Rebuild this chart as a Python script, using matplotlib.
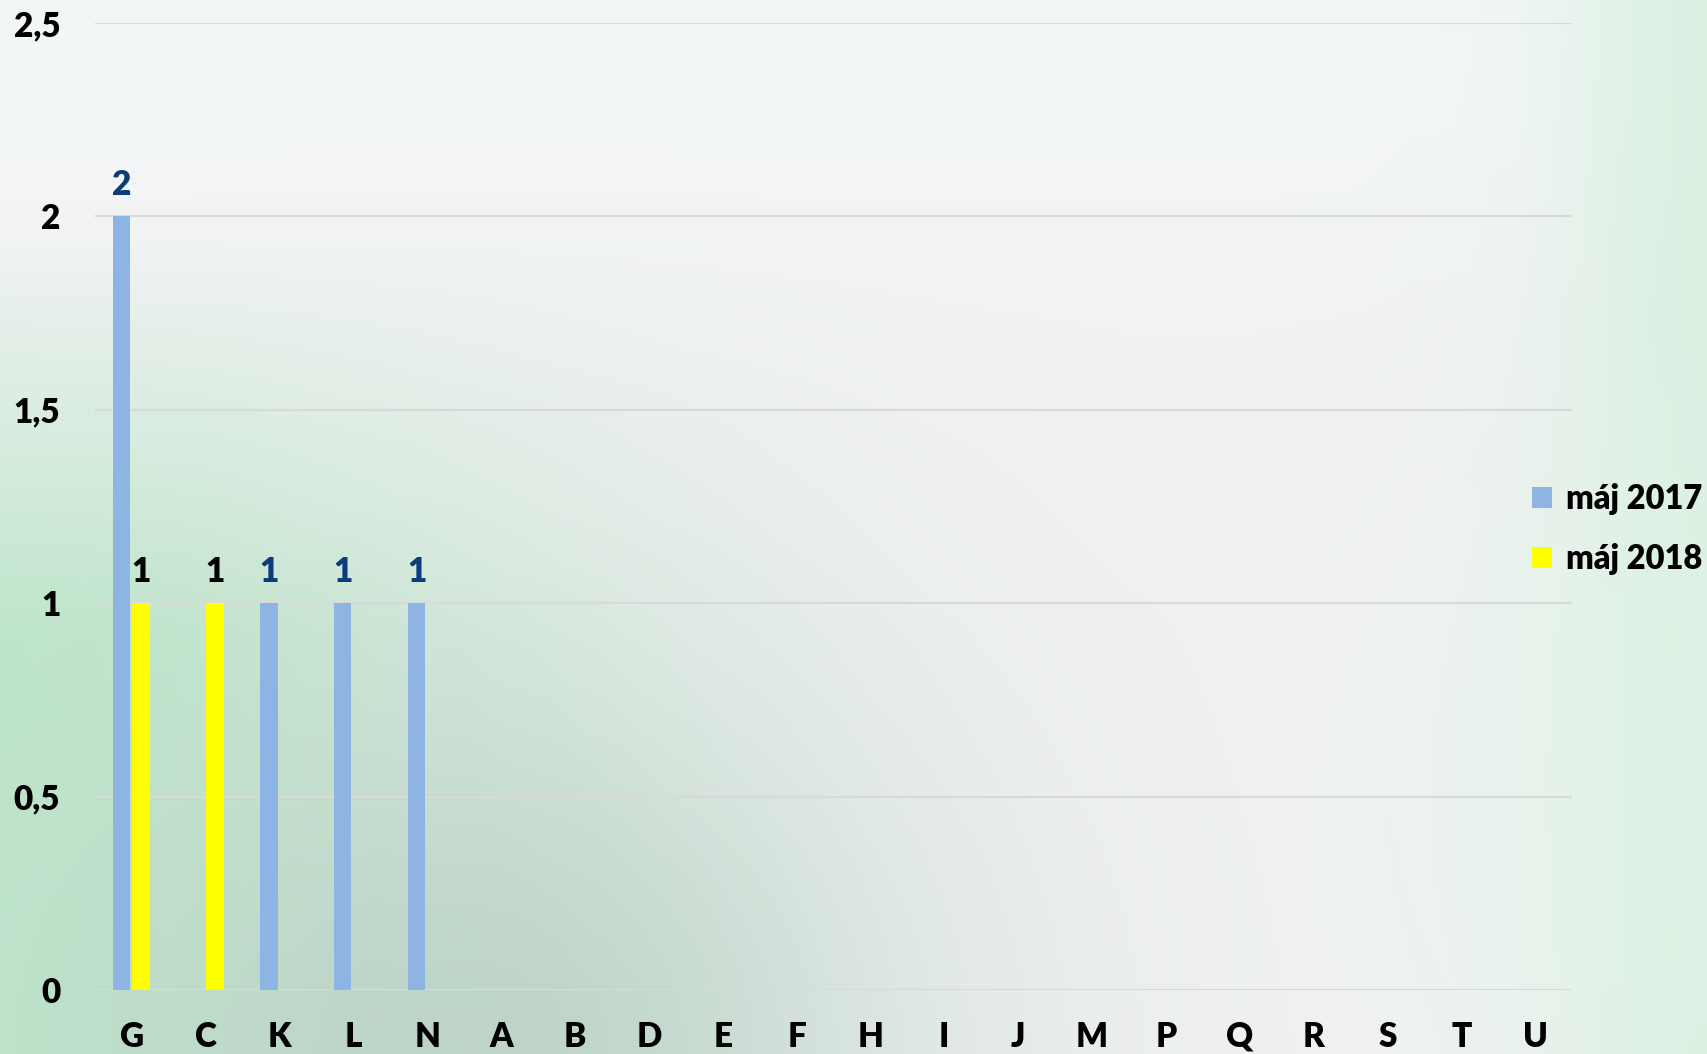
import numpy as np
import matplotlib
matplotlib.use("Agg")
import matplotlib.pyplot as plt
from matplotlib.patches import Patch

categories = ["G", "C", "K", "L", "N", "A", "B", "D", "E", "F",
              "H", "I", "J", "M", "P", "Q", "R", "S", "T", "U"]
series_names = ["máj 2017", "máj 2018"]
values_2017 = [2, 0, 1, 1, 1, 0, 0, 0, 0, 0, 0, 0, 0, 0, 0, 0, 0, 0, 0, 0]
values_2018 = [1, 1, 0, 0, 0, 0, 0, 0, 0, 0, 0, 0, 0, 0, 0, 0, 0, 0, 0, 0]
y_ticks = [0, 0.5, 1, 1.5, 2, 2.5]

col_2017 = "#8EB4E3"
col_2018 = "#FFFF00"
lab_2017 = "#0A3D7A"
lab_2018 = "#000000"

FONT = ["Lato", "DejaVu Sans"]
WEIGHT = 800
plt.rcParams['font.family'] = FONT

W, H = 1708, 1054
fig = plt.figure(figsize=(W / 100, H / 100), dpi=100)

# background gradient
yy, xx = np.mgrid[0:1:H * 1j, 0:1:W * 1j]
img = np.ones((H, W, 3)) * np.array([0.945, 0.947, 0.950])

def blend(img, w, c):
    w = np.clip(w, 0, 1)[..., None]
    return img * (1 - w) + np.array(c) * w

img = blend(img, 0.9 * np.exp(-((yy) / 0.25) ** 2), [0.955, 0.968, 0.972])
img = blend(img, 0.97 * np.exp(-(xx / 0.33) ** 2) * np.clip((yy - 0.22) / 0.38, 0, 1),
            [0.745, 0.905, 0.795])
img = blend(img, 0.8 * np.exp(-((xx - 0.28) / 0.25) ** 2 - ((yy - 1.0) / 0.35) ** 2),
            [0.72, 0.81, 0.765])
img = blend(img, 0.8 * np.exp(-((1 - xx) / 0.09) ** 2), [0.84, 0.94, 0.87])
img = blend(img, 0.5 * np.exp(-((1 - xx) / 0.2) ** 2 - ((yy - 0.75) / 0.35) ** 2),
            [0.88, 0.96, 0.91])

bg = fig.add_axes([0, 0, 1, 1])
bg.imshow(img, aspect='auto', extent=[0, 1, 0, 1], origin='upper')
bg.set_axis_off()

ax = fig.add_axes([95 / W, (H - 990) / H, 1477 / W, (990 - 23) / H])
ax.patch.set_alpha(0)

x = np.arange(len(categories))
bw = 0.235
off = 0.135
b1 = ax.bar(x - off - 0.01, values_2017, bw, color=col_2017, zorder=3)
b2 = ax.bar(x + off - 0.01, values_2018, bw, color=col_2018, zorder=3)

for rect, v in zip(b1, values_2017):
    if v:
        ax.annotate(f"{v}", (rect.get_x() + rect.get_width() / 2, v),
                    xytext=(0, 11), textcoords="offset points", ha="center",
                    va="bottom", fontsize=24, fontweight=WEIGHT, color=lab_2017)
for rect, v in zip(b2, values_2018):
    if v:
        ax.annotate(f"{v}", (rect.get_x() + rect.get_width() / 2, v),
                    xytext=(0, 11), textcoords="offset points", ha="center",
                    va="bottom", fontsize=24, fontweight=WEIGHT, color=lab_2018)

ax.set_xlim(-0.5, len(categories) - 0.5)
ax.set_ylim(0, 2.5)
ax.set_yticks(y_ticks)
ax.set_yticklabels([f"{t:g}".replace(".", ",") for t in y_ticks])
ax.set_xticks(x)
ax.set_xticklabels(categories)
for lbl in ax.get_xticklabels() + ax.get_yticklabels():
    lbl.set_fontweight(WEIGHT)
    lbl.set_fontsize(24)
ax.tick_params(axis="both", length=0)
ax.tick_params(axis="y", pad=25)
ax.tick_params(axis="x", pad=22)
ax.grid(axis="y", color="#d9d9d9", linewidth=1.6, zorder=0)
for s in ax.spines.values():
    s.set_visible(False)

handles = [Patch(facecolor=col_2017, edgecolor="none"),
           Patch(facecolor=col_2018, edgecolor="none")]
leg = fig.legend(handles, series_names, loc="center left",
                 bbox_to_anchor=(1532 / W, 1 - 529 / H), frameon=False,
                 prop={"family": FONT, "weight": WEIGHT, "size": 23.5},
                 handlelength=0.62, handleheight=0.62, handletextpad=0.42,
                 labelspacing=0.86, borderpad=0, borderaxespad=0)

fig.savefig("out.png", dpi=100)
